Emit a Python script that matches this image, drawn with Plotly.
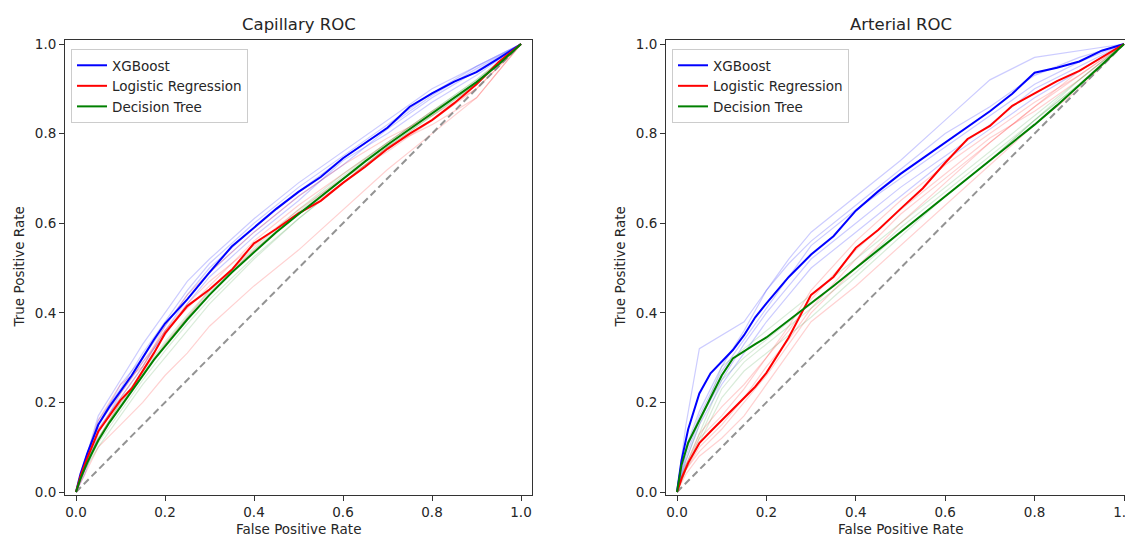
import plotly.graph_objects as go

# ---------------- data ----------------
MEAN_FPR = [0, 0.01, 0.025, 0.05, 0.075, 0.1, 0.125, 0.15, 0.175, 0.2, 0.25, 0.3, 0.35,
            0.4, 0.45, 0.5, 0.55, 0.6, 0.65, 0.7, 0.75, 0.8, 0.85, 0.9, 0.95, 1.0]

CAP_XGB_MEAN = [0, 0.04, 0.085, 0.15, 0.19, 0.225, 0.26, 0.30, 0.34, 0.376, 0.43, 0.49, 0.548,
                0.59, 0.632, 0.67, 0.703, 0.745, 0.778, 0.813, 0.86, 0.89, 0.916, 0.937, 0.968, 1.0]
CAP_LR_MEAN = [0, 0.035, 0.075, 0.135, 0.17, 0.205, 0.231, 0.27, 0.31, 0.354, 0.415, 0.452, 0.496,
               0.555, 0.587, 0.622, 0.65, 0.69, 0.726, 0.766, 0.80, 0.83, 0.868, 0.91, 0.96, 1.0]
CAP_DT_MEAN = [0, 0.03, 0.065, 0.115, 0.155, 0.19, 0.225, 0.26, 0.295, 0.325, 0.385, 0.44, 0.49,
               0.535, 0.58, 0.62, 0.66, 0.70, 0.738, 0.775, 0.81, 0.845, 0.88, 0.915, 0.955, 1.0]

ART_XGB_MEAN = [0, 0.07, 0.14, 0.22, 0.265, 0.29, 0.317, 0.35, 0.39, 0.421, 0.48, 0.53, 0.571,
                0.628, 0.671, 0.71, 0.745, 0.782, 0.817, 0.85, 0.889, 0.936, 0.947, 0.961, 0.985, 1.0]
ART_LR_MEAN = [0, 0.03, 0.065, 0.109, 0.135, 0.16, 0.183, 0.208, 0.235, 0.266, 0.345, 0.44, 0.48,
               0.545, 0.585, 0.632, 0.678, 0.735, 0.788, 0.817, 0.862, 0.89, 0.917, 0.94, 0.97, 1.0]
ART_DT_MEAN = [0, 0.06, 0.11, 0.16, 0.21, 0.26, 0.298, 0.315, 0.33, 0.345, 0.383, 0.42, 0.46,
               0.50, 0.54, 0.58, 0.62, 0.66, 0.70, 0.74, 0.78, 0.82, 0.863, 0.907, 0.953, 1.0]

FOLD_FPR = [0, 0.02, 0.05, 0.1, 0.15, 0.2, 0.25, 0.3, 0.4, 0.5, 0.6, 0.7, 0.8, 0.9, 1.0]

CAP_XGB_FOLDS = [
    [0, .07, .17, .25, .33, .40, .47, .52, .61, .69, .76, .83, .90, .95, 1],
    [0, .05, .14, .21, .28, .36, .43, .49, .58, .66, .73, .81, .88, .94, 1],
    [0, .06, .16, .23, .31, .38, .45, .51, .60, .68, .75, .82, .89, .95, 1],
    [0, .04, .13, .22, .29, .35, .42, .48, .57, .65, .74, .80, .87, .93, 1],
    [0, .06, .15, .24, .30, .37, .44, .50, .59, .67, .745, .815, .885, .945, 1],
]
CAP_LR_FOLDS = [
    [0, .04, .10, .15, .20, .26, .31, .37, .46, .54, .63, .72, .80, .88, 1],
    [0, .07, .16, .24, .28, .36, .41, .46, .56, .64, .71, .78, .85, .91, 1],
    [0, .05, .14, .21, .28, .37, .44, .49, .58, .66, .73, .79, .84, .90, 1],
    [0, .05, .12, .20, .26, .33, .39, .45, .54, .62, .69, .77, .82, .88, 1],
    [0, .06, .15, .22, .29, .36, .42, .47, .55, .63, .70, .76, .83, .90, 1],
]
CAP_DT_FOLDS = [
    [0, .05, .11, .18, .25, .315, .375, .43, .525, .61, .69, .77, .84, .91, 1],
    [0, .06, .12, .20, .27, .335, .395, .45, .545, .63, .71, .78, .85, .92, 1],
    [0, .05, .10, .17, .24, .30, .36, .42, .52, .61, .69, .77, .84, .91, 1],
    [0, .06, .12, .195, .265, .33, .39, .445, .54, .625, .705, .78, .85, .92, 1],
]
ART_XGB_FOLDS = [
    [0, .15, .32, .35, .38, .45, .52, .58, .66, .74, .83, .92, .97, .985, 1],
    [0, .10, .18, .28, .36, .45, .51, .56, .64, .72, .80, .86, .93, .97, 1],
    [0, .08, .16, .25, .33, .40, .46, .52, .60, .68, .75, .82, .90, .95, 1],
    [0, .09, .17, .27, .34, .41, .48, .55, .63, .70, .77, .84, .91, .96, 1],
    [0, .07, .15, .24, .31, .38, .44, .50, .58, .66, .74, .81, .88, .94, 1],
]
ART_LR_FOLDS = [
    [0, .06, .12, .17, .23, .30, .37, .45, .56, .65, .73, .80, .87, .93, 1],
    [0, .05, .09, .14, .20, .26, .33, .40, .50, .60, .69, .78, .86, .93, 1],
    [0, .04, .08, .12, .17, .24, .31, .38, .46, .55, .64, .73, .82, .90, 1],
    [0, .06, .13, .19, .24, .30, .36, .43, .54, .63, .71, .79, .85, .92, 1],
    [0, .05, .10, .15, .21, .28, .34, .41, .52, .62, .70, .78, .86, .94, 1],
]
ART_DT_FOLDS = [
    [0, .07, .15, .28, .32, .36, .40, .44, .52, .60, .68, .76, .84, .92, 1],
    [0, .05, .12, .23, .29, .33, .37, .41, .49, .58, .66, .74, .83, .91, 1],
    [0, .06, .13, .25, .30, .34, .38, .42, .50, .59, .67, .75, .83, .92, 1],
    [0, .05, .11, .21, .27, .31, .35, .39, .48, .57, .66, .74, .83, .91, 1],
]

MODELS = ["XGBoost", "Logistic Regression", "Decision Tree"]
PANEL_TITLES = ["Capillary ROC", "Arterial ROC"]
DIAG = [0, 1]
TICKS = [0, 0.2, 0.4, 0.6, 0.8, 1.0]

# ---------------- styling ----------------
OFF = 8  # page body margin of the html page
W, H = 1133 - OFF, 537 - OFF
FONT = "DejaVu Sans"
TXT = "#262626"
COLORS = ["rgb(0,0,255)", "rgb(255,0,0)", "rgb(0,128,0)"]
FAINT = ["rgba(0,0,255,0.2)", "rgba(255,0,0,0.18)", "rgba(0,128,0,0.15)"]

panels = [
    dict(means=[CAP_XGB_MEAN, CAP_LR_MEAN, CAP_DT_MEAN],
         folds=[CAP_XGB_FOLDS, CAP_LR_FOLDS, CAP_DT_FOLDS],
         xa="x", ya="y", legend="legend"),
    dict(means=[ART_XGB_MEAN, ART_LR_MEAN, ART_DT_MEAN],
         folds=[ART_XGB_FOLDS, ART_LR_FOLDS, ART_DT_FOLDS],
         xa="x2", ya="y2", legend="legend2"),
]

fig = go.Figure()
for p in panels:
    for mi, fold_set in enumerate(p["folds"]):
        for f in fold_set:
            fig.add_trace(go.Scatter(x=FOLD_FPR, y=f, mode="lines", xaxis=p["xa"], yaxis=p["ya"],
                                     line=dict(color=FAINT[mi], width=1.2), showlegend=False,
                                     hoverinfo="skip"))
    fig.add_trace(go.Scatter(x=DIAG, y=DIAG, mode="lines", xaxis=p["xa"], yaxis=p["ya"],
                             line=dict(color="rgba(128,128,128,0.85)", width=2, dash="7px,4px"),
                             showlegend=False, hoverinfo="skip"))
    for mi, m in enumerate(p["means"]):
        fig.add_trace(go.Scatter(x=MEAN_FPR, y=m, mode="lines", xaxis=p["xa"], yaxis=p["ya"],
                                 name=MODELS[mi], legend=p["legend"],
                                 line=dict(color=COLORS[mi], width=2)))


def px(v):
    return v - OFF


# axes geometry (reference pixels -> figure pixels)
L1, R1 = px(65), px(532)
L2, R2 = px(666), px(1133)
TOP, BOT = px(40), px(495)
X0_1, X1_1 = px(76), px(521)
X0_2, X1_2 = px(677), px(1124)
Y0, Y1 = px(492), px(44)


def xrange_for(l, r, x0, x1):
    s = x1 - x0
    return [(l - x0) / s, 1 + (r - x1) / s]


yr = [-(BOT - Y0) / (Y0 - Y1), 1 + (Y1 - TOP) / (Y0 - Y1)]

axis_common = dict(showgrid=False, zeroline=False, showline=True, linecolor="#333333",
                   linewidth=1, ticks="outside", ticklen=5, tickwidth=1, tickcolor="#333333",
                   tickvals=TICKS, tickformat=".1f", ticklabeloverflow="allow",
                   tickfont=dict(family=FONT, size=13.5, color=TXT), automargin=False)

leg_common = dict(xanchor="left", yanchor="top", bgcolor="rgba(255,255,255,0.8)",
                  bordercolor="#cccccc", borderwidth=1,
                  font=dict(family=FONT, size=13.5, color=TXT), tracegroupgap=0)

fig.update_layout(
    width=W, height=H, margin=dict(l=0, r=0, t=0, b=0),
    paper_bgcolor="white", plot_bgcolor="white",
    xaxis=dict(domain=[L1 / W, R1 / W], range=xrange_for(L1, R1, X0_1, X1_1), anchor="y",
               mirror=True, **axis_common),
    yaxis=dict(domain=[1 - BOT / H, 1 - TOP / H], range=yr, anchor="x", mirror=True, **axis_common),
    xaxis2=dict(domain=[L2 / W, min(R2 / W, 1)], range=xrange_for(L2, R2, X0_2, X1_2), anchor="y2",
                mirror=True, **axis_common),
    yaxis2=dict(domain=[1 - BOT / H, 1 - TOP / H], range=yr, anchor="x2", mirror=False,
                **axis_common),
    legend=dict(x=px(71) / W, y=1 - px(49) / H, **leg_common),
    legend2=dict(x=px(672) / W, y=1 - px(49) / H, **leg_common),
    showlegend=True,
)

annos = []
for cx, title, ylx in [((65 + 532) / 2, PANEL_TITLES[0], 18), ((666 + 1135) / 2, PANEL_TITLES[1], 619)]:
    annos.append(dict(x=px(cx) / W, y=1 - px(25) / H, xref="paper", yref="paper", text=title,
                      showarrow=False, xanchor="center", yanchor="middle",
                      font=dict(family=FONT, size=16.5, color=TXT)))
    annos.append(dict(x=px(cx) / W, y=1 - px(529) / H, xref="paper", yref="paper",
                      text="False Positive Rate", showarrow=False, xanchor="center",
                      yanchor="middle", font=dict(family=FONT, size=13.5, color=TXT)))
    annos.append(dict(x=px(ylx) / W, y=1 - px((40 + 495) / 2) / H, xref="paper", yref="paper",
                      text="True Positive Rate", showarrow=False, textangle=-90,
                      xanchor="center", yanchor="middle",
                      font=dict(family=FONT, size=13.5, color=TXT)))
fig.update_layout(annotations=annos)

fig.write_html("out.html")
